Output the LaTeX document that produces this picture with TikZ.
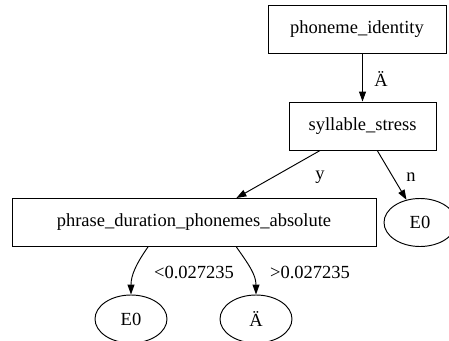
\documentclass[tikz,border=0pt]{standalone}
\usepackage{fontspec}
\setmainfont{Liberation Serif}
\usetikzlibrary{arrows.meta,shapes.geometric}

\begin{document}
\begin{tikzpicture}[x=1pt,y=-1pt,line width=0.95pt,
	font=\fontsize{18.5}{20}\selectfont,
	test_node/.style={rectangle,draw,inner sep=0pt,minimum height=48pt},
	leaf_node/.style={ellipse,draw,inner sep=0pt,minimum width=72pt,minimum height=48pt},
	edge_label/.style={inner sep=0pt},
	branch/.style={-{Triangle[length=10pt,width=7pt]}}]
		
		\useasboundingbox (0,0) rectangle (449,340);
		
		\node[test_node,minimum width=178pt] (identity) at (357,29) {phoneme\_identity};
		\node[test_node,minimum width=147pt] (stress) at (362.5,126) {syllable\_stress};
		\node[test_node,minimum width=364pt] (duration) at (194,222.5) {phrase\_duration\_phonemes\_absolute};
		\node[leaf_node] (e0n) at (420,222.5) {E0};
		\node[leaf_node] (e0low) at (131,319) {E0};
		\node[leaf_node] (ahigh) at (256,319) {Ä};
		
		\node[edge_label] (l1) at (381,79) {Ä};
		\node[edge_label] (l2) at (320,177) {y};
		\node[edge_label] (l3) at (411,177) {n};
		\node[edge_label] (l4) at (194,272) {<0.027235};
		\node[edge_label] (l5) at (310,272) {>0.027235};
		
		\draw[branch] (identity.south -| stress.north) -- (stress.north);
		\draw[branch] (stress.-150) -- (duration.30);
		\draw[branch] (stress.-59) -- (e0n);
		\draw[branch] (duration.-152) to[out=-125,in=90] (e0low.north);
		\draw[branch] (duration.-30) to[out=-55,in=90] (ahigh.north);
		\end{tikzpicture}
\end{document}
